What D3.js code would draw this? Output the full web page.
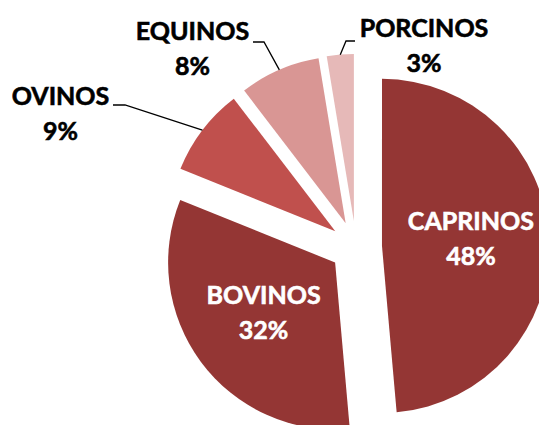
<!DOCTYPE html>
<html>
<head>
<meta charset="utf-8">
<script src="https://cdn.jsdelivr.net/npm/d3@7"></script>
<style>
  html, body { margin: 0; padding: 0; background: #fff; }
  svg { display: block; }
</style>
</head>
<body>
<svg id="chart"></svg>
<script>
'use strict';

// Data. Percent shares, clockwise from 12 o'clock.
const categories = ['CAPRINOS', 'BOVINOS', 'OVINOS', 'EQUINOS', 'PORCINOS'];
const shares = [48.6, 32.5, 8.5, 7.8, 2.6];
const shareLabels = ['48%', '32%', '9%', '8%', '3%'];

const width = 539;
const height = 425;
const cx = 356, cy = 247;     // pie centre
const radius = 167;
const explode = 26;           // every slice is pulled out this far
const lineGap = 35;           // label line spacing

const colors = ['#943634', '#943634', '#c0504d', '#d99694', '#e6b9b8'];

// Where each label sits. Inside labels are placed on the slice, outside ones
// get a leader line with a short horizontal elbow.
const labelLayout = [
  {inside: true},
  {inside: true},
  {inside: false, x: 60.5, y: 104.5, elbow: [[113, 105], [125, 105]]},
  {inside: false, x: 192.5, y: 40, elbow: [[253, 42], [264, 42]]},
  {inside: false, x: 424, y: 36.5, elbow: [[355, 41], [346, 41]]}
];

const svg = d3.select('#chart')
  .attr('width', width)
  .attr('height', height);

const pie = d3.pie().sort(null).value((d) => d.value);
const arcs = pie(categories.map((c, i) => ({name: c, value: shares[i], label: shareLabels[i]})));

const arc = d3.arc().innerRadius(0).outerRadius(radius);

const mid = (d) => (d.startAngle + d.endAngle) / 2;
// Unit vector of a slice's bisector in screen coords.
const dir = (d) => [Math.sin(mid(d)), -Math.cos(mid(d))];

const g = svg.append('g').attr('transform', `translate(${cx},${cy})`);

// Slices, each translated along its bisector.
g.selectAll('path.slice')
  .data(arcs)
  .enter()
  .append('path')
  .attr('class', 'slice')
  .attr('d', arc)
  .attr('fill', (d, i) => colors[i])
  .attr('transform', (d) => {
    const u = dir(d);
    return `translate(${u[0] * explode},${u[1] * explode})`;
  });

// Leader lines from the middle of the outer arc to the label.
const line = d3.line();
arcs.forEach((d, i) => {
  const lay = labelLayout[i];
  if (lay.inside) return;
  const u = dir(d);
  const p = [cx + u[0] * (radius + explode), cy + u[1] * (radius + explode)];
  const pts = [p, lay.elbow[1], lay.elbow[0]];
  svg.append('path')
    .attr('d', line(pts))
    .attr('fill', 'none')
    .attr('stroke', '#000')
    .attr('stroke-width', 1.3);
});

// Labels. A hairline stroke thickens Lato toward the heavier original face.
const labelR = 89;
arcs.forEach((d, i) => {
  const lay = labelLayout[i];
  let x, y, fill;
  if (lay.inside) {
    const u = dir(d);
    x = cx + u[0] * (labelR + explode);
    y = cy + u[1] * (labelR + explode) - 11.5;
    fill = '#fff';
  } else {
    x = lay.x;
    y = lay.y;
    fill = '#000';
  }
  const t = svg.append('text')
    .attr('text-anchor', 'middle')
    .attr('font-family', 'Lato, "Open Sans", sans-serif')
    .attr('font-weight', 'bold')
    .attr('font-size', 25)
    .attr('fill', fill)
    .attr('stroke', fill)
    .attr('stroke-width', 0.6);
  t.append('tspan').attr('x', x).attr('y', y).text(d.data.name);
  t.append('tspan').attr('x', x).attr('y', y + lineGap).text(d.data.label);
});
</script>
</body>
</html>
